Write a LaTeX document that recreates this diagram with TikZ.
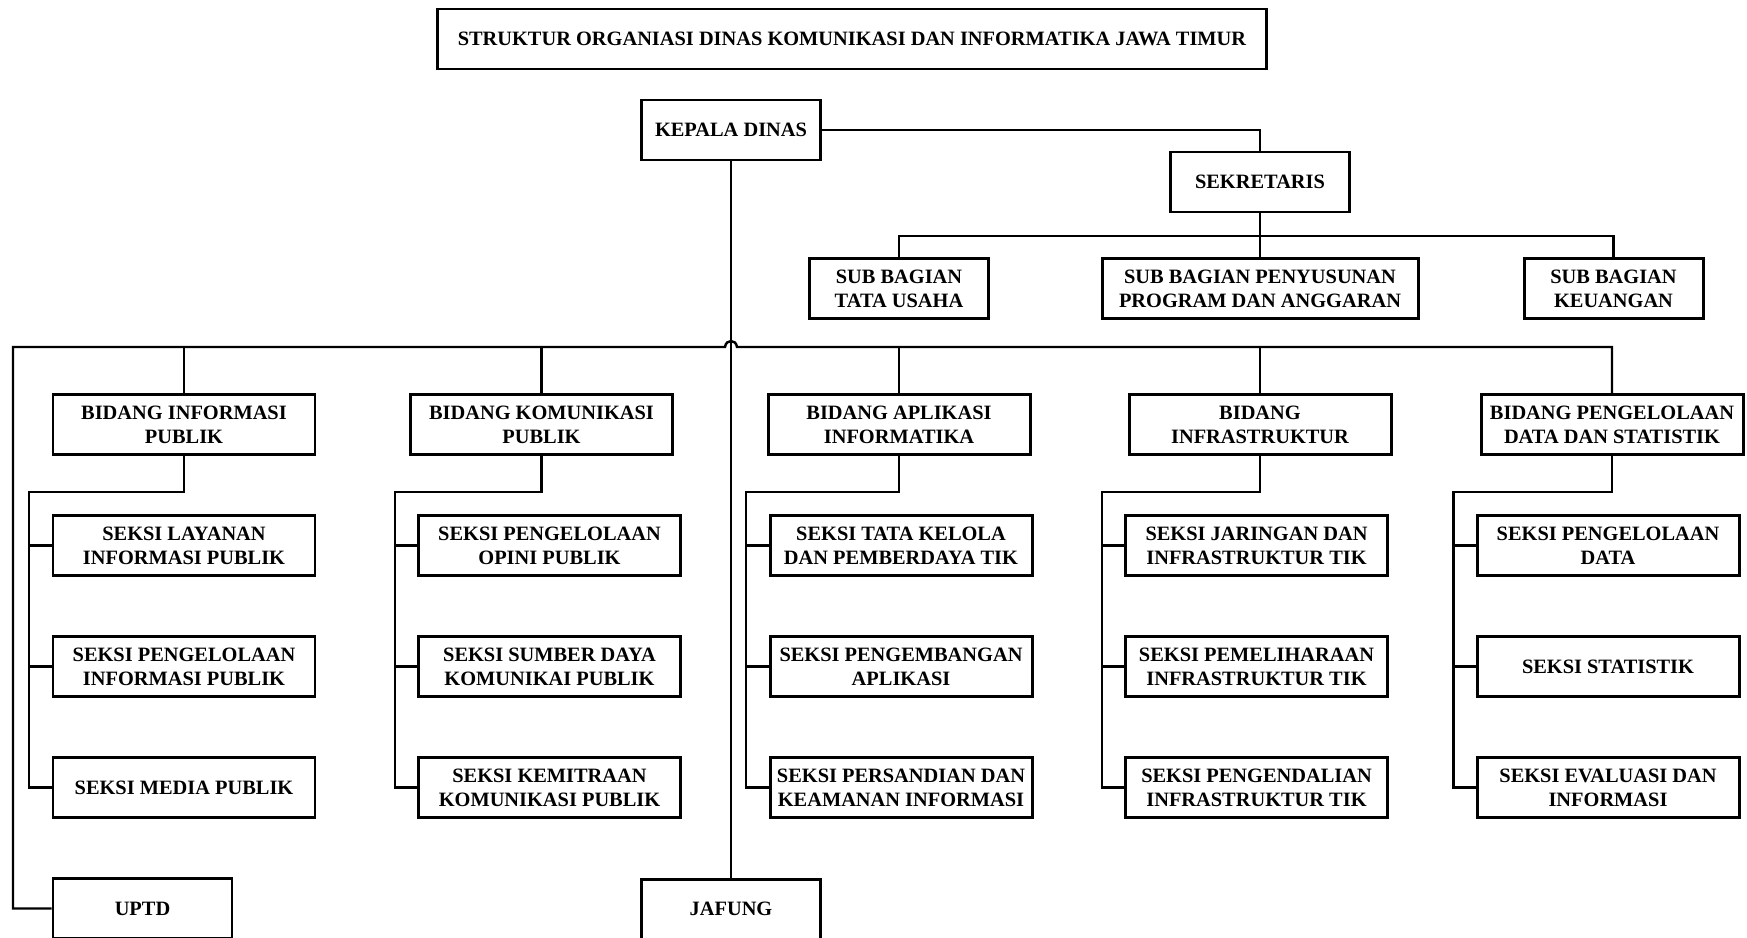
\documentclass[tikz,border=0pt]{standalone}
\usepackage{fontspec}
\setmainfont{Liberation Serif}
\usepackage{tikz}
\tikzstyle{unit} = [rectangle, minimum width = 5.24cm, minimum height = 1.2cm, inner sep = 2pt, align = center, draw = black, line width = 1.7pt, fill = white, font = \bfseries\fontsize{11.6}{13.6}\selectfont]
\tikzstyle{head} = [unit, minimum width = 3.58cm]
\tikzstyle{line} = [line width = 1.4pt]

\begin{document}
\begin{tikzpicture}[node distance = 2.42cm, x = 0.2mm, y = -0.2mm]
\useasboundingbox (0,0) rectangle (1747,938);

\node(judul) [unit, minimum width = 16.58cm] at (852,39) {STRUKTUR ORGANIASI DINAS KOMUNIKASI DAN INFORMATIKA JAWA TIMUR};
\node(kadis) [head] at (731,130) {KEPALA DINAS};
\node(sekre) [head] at (1260,182) {SEKRETARIS};
\node(subtu) [head] at (899,288.5) {SUB BAGIAN\\TATA USAHA};
\node(subpp) [unit, minimum width = 6.32cm] at (1260,288.5) {SUB BAGIAN PENYUSUNAN\\PROGRAM DAN ANGGARAN};
\node(subku) [head] at (1613.5,288.5) {SUB BAGIAN\\KEUANGAN};

\node(bip)  [unit] at (184,424.5) {BIDANG INFORMASI\\PUBLIK};
\node(bkp)  [unit] at (541.5,424.5) {BIDANG KOMUNIKASI\\PUBLIK};
\node(bai)  [unit] at (899,424.5) {BIDANG APLIKASI\\INFORMATIKA};
\node(binf) [unit] at (1260,424.5) {BIDANG\\INFRASTRUKTUR};
\node(bpds) [unit] at (1612,424.5) {BIDANG PENGELOLAAN\\DATA DAN STATISTIK};

\node(sip1) [unit, below of = bip] {SEKSI LAYANAN\\INFORMASI PUBLIK};
\node(sip2) [unit, below of = sip1] {SEKSI PENGELOLAAN\\INFORMASI PUBLIK};
\node(sip3) [unit, below of = sip2] {SEKSI MEDIA PUBLIK};
\node(uptd) [head, below of = sip3, xshift = -0.83cm] {UPTD};

\node(skp1) [unit, below of = bkp, xshift = 0.16cm] {SEKSI PENGELOLAAN\\OPINI PUBLIK};
\node(skp2) [unit, below of = skp1] {SEKSI SUMBER DAYA\\KOMUNIKAI PUBLIK};
\node(skp3) [unit, below of = skp2] {SEKSI KEMITRAAN\\KOMUNIKASI PUBLIK};

\node(sai1) [unit, below of = bai, xshift = 0.04cm] {SEKSI TATA KELOLA\\DAN PEMBERDAYA TIK};
\node(sai2) [unit, below of = sai1] {SEKSI PENGEMBANGAN\\APLIKASI};
\node(sai3) [unit, below of = sai2] {SEKSI PERSANDIAN DAN\\KEAMANAN INFORMASI};

\node(sinf1) [unit, below of = binf, xshift = -0.07cm] {SEKSI JARINGAN DAN\\INFRASTRUKTUR TIK};
\node(sinf2) [unit, below of = sinf1] {SEKSI PEMELIHARAAN\\INFRASTRUKTUR TIK};
\node(sinf3) [unit, below of = sinf2] {SEKSI PENGENDALIAN\\INFRASTRUKTUR TIK};

\node(spds1) [unit, below of = bpds, xshift = -0.08cm] {SEKSI PENGELOLAAN\\DATA};
\node(spds2) [unit, below of = spds1] {SEKSI STATISTIK};
\node(spds3) [unit, below of = spds2] {SEKSI EVALUASI DAN\\INFORMASI};

\node(jafung) [head] at (731,909) {JAFUNG};

\coordinate(busS) at (1260,236);
\coordinate(busU) at (13,347);
\coordinate(hopL) at (725,347);
\coordinate(hopR) at (737,347);
\coordinate(tip)  at (29,492);
\coordinate(tkp)  at (395,492);
\coordinate(tai)  at (746,492);
\coordinate(tinf) at (1102,492);
\coordinate(tpds) at (1453.5,492);

\draw [line] (kadis.east) -| (sekre.north);
\draw [line] (kadis.south) -- (jafung.north);
\draw [line] (sekre.south) -- (subpp.north);
\draw [line] (subtu.north) |- (busS) -| (subku.north);

\draw [line] (uptd.west) -| (busU) -- (hopL) .. controls (726,339) and (736,339) .. (hopR) -| (bpds.north);
\draw [line] (bip.north) -- (bip.north |- busU);
\draw [line] (bkp.north) -- (bkp.north |- busU);
\draw [line] (bai.north) -- (bai.north |- busU);
\draw [line] (binf.north) -- (binf.north |- busU);

\draw [line] (bip.south) |- (tip) |- (sip3.west);
\draw [line] (sip1.west) -- (sip1.west -| tip);
\draw [line] (sip2.west) -- (sip2.west -| tip);

\draw [line] (bkp.south) |- (tkp) |- (skp3.west);
\draw [line] (skp1.west) -- (skp1.west -| tkp);
\draw [line] (skp2.west) -- (skp2.west -| tkp);

\draw [line] (bai.south) |- (tai) |- (sai3.west);
\draw [line] (sai1.west) -- (sai1.west -| tai);
\draw [line] (sai2.west) -- (sai2.west -| tai);

\draw [line] (binf.south) |- (tinf) |- (sinf3.west);
\draw [line] (sinf1.west) -- (sinf1.west -| tinf);
\draw [line] (sinf2.west) -- (sinf2.west -| tinf);

\draw [line] (bpds.south) |- (tpds) |- (spds3.west);
\draw [line] (spds1.west) -- (spds1.west -| tpds);
\draw [line] (spds2.west) -- (spds2.west -| tpds);

\end{tikzpicture}
\end{document}
